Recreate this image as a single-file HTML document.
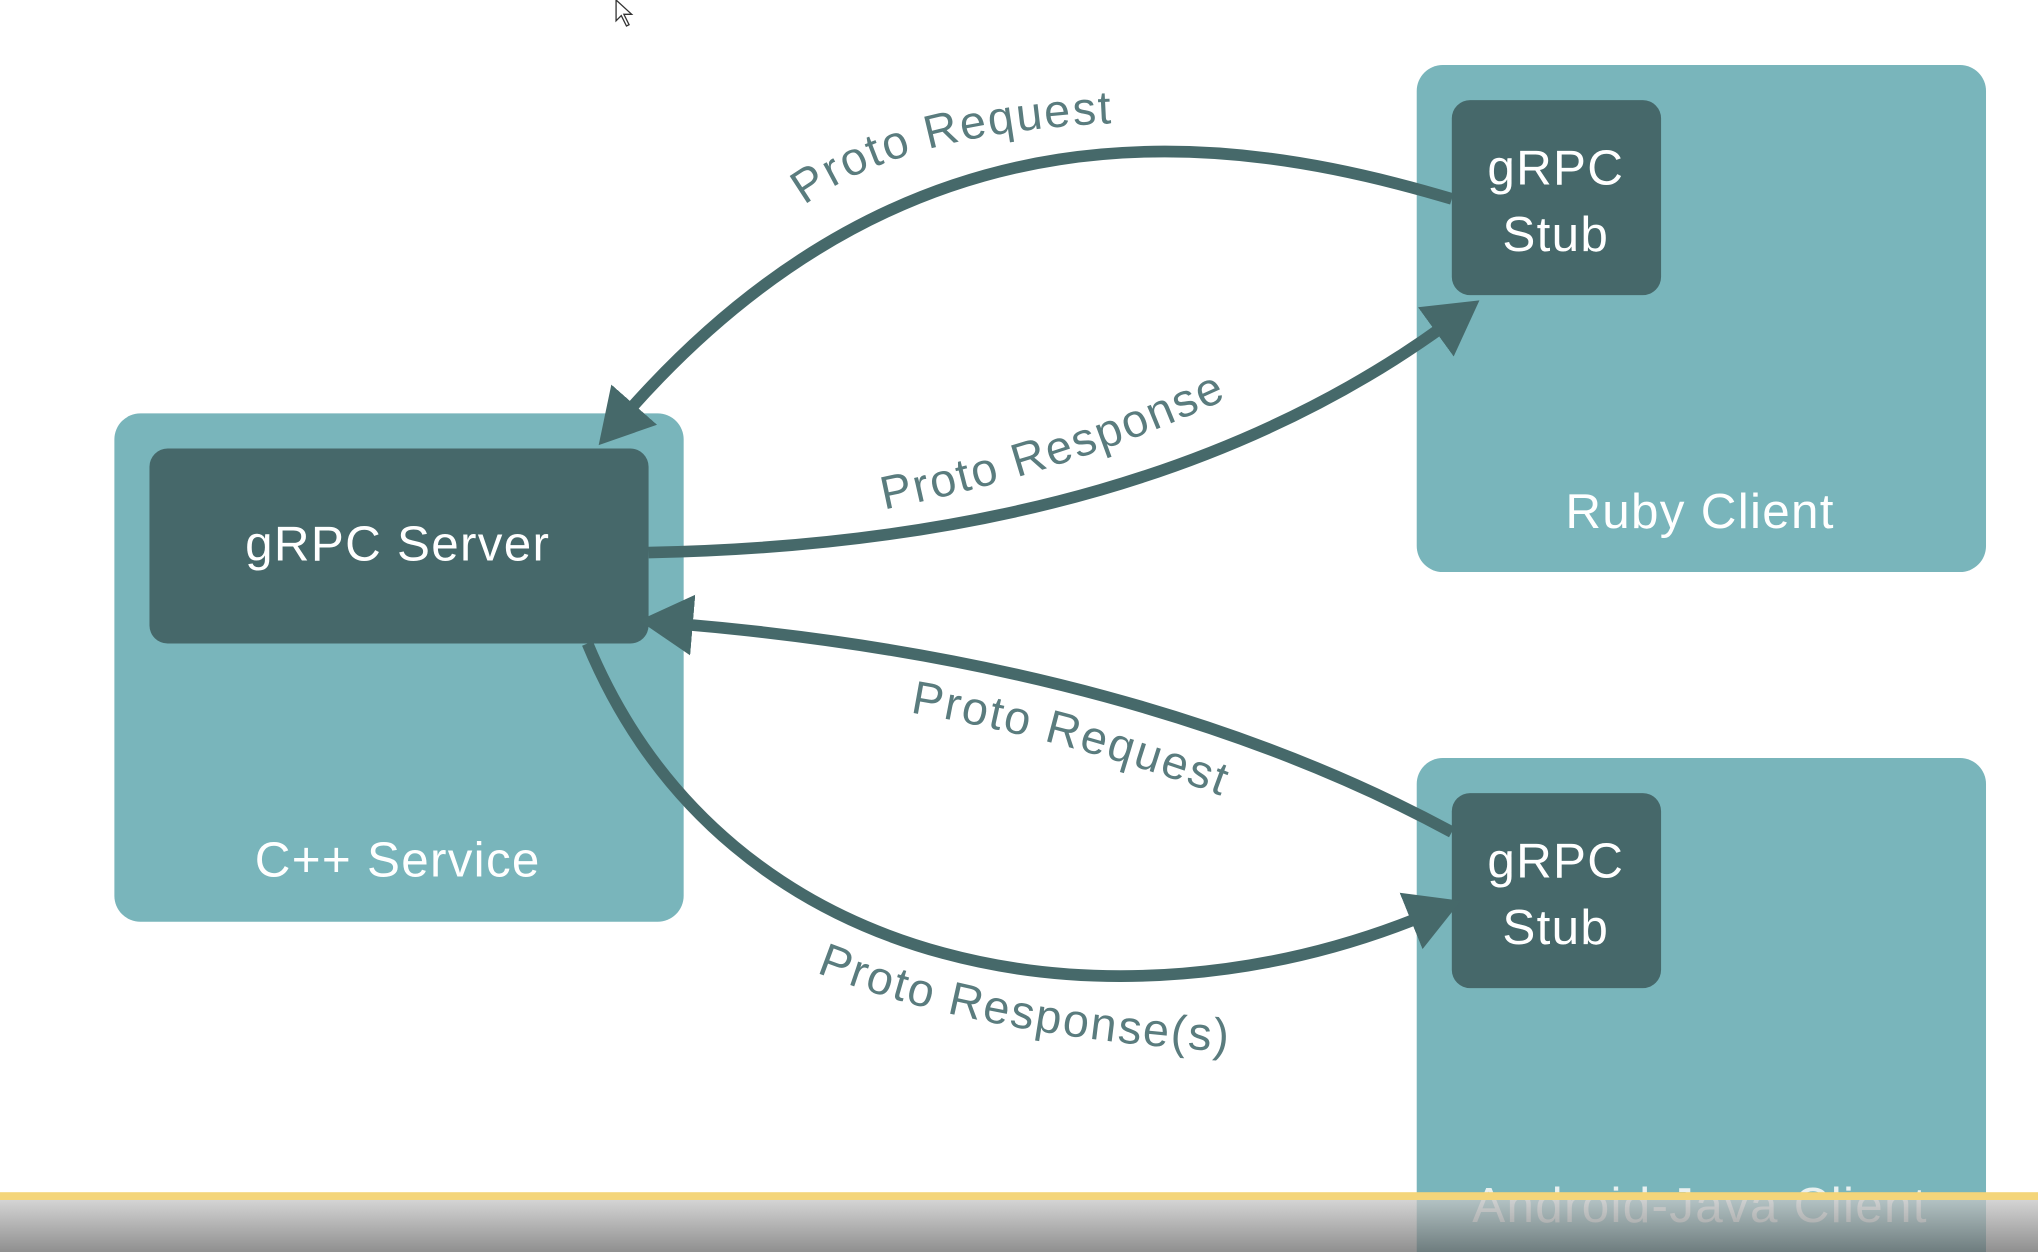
<!DOCTYPE html>
<html><head><meta charset="utf-8"><style>
html,body{margin:0;padding:0;background:#fff;}
svg{display:block;}
</style></head><body>
<svg width="2038" height="1252" viewBox="0 0 1568 963" preserveAspectRatio="none" xmlns="http://www.w3.org/2000/svg">
<defs>
<marker id="ah" markerWidth="6" markerHeight="6" refX="1" refY="3" orient="auto" markerUnits="strokeWidth">
<path d="M0,0.4 L4.6,3 L0,5.6 Z" fill="#46696a"/>
</marker>
<linearGradient id="bar" x1="0" y1="0" x2="0" y2="1">
<stop offset="0" stop-color="#c8c8c8"/><stop offset="1" stop-color="#6a6a6a"/>
</linearGradient>
<path id="l1" d="M619,158 Q 700,98 880,94"/>
<path id="l2" d="M680,392 Q 830,362 958,300"/>
<path id="l3" d="M700,548 Q 830,570 955,618"/>
<path id="l4" d="M628,748 Q 760,800 965,810"/>
</defs>
<rect width="1568" height="963" fill="#fff"/>
<rect x="88" y="318" width="438" height="391" rx="20" fill="#79b5bb"/>
<rect x="115" y="345" width="384" height="150" rx="14" fill="#46686a"/>
<text x="306" y="431" font-family="Liberation Sans, sans-serif" font-size="38" letter-spacing="1" fill="#fff" text-anchor="middle">gRPC Server</text>
<text x="306" y="674" font-family="Liberation Sans, sans-serif" font-size="38" letter-spacing="1" fill="#fff" text-anchor="middle">C++ Service</text>

<rect x="1090" y="50" width="438" height="390" rx="20" fill="#79b5bb"/>
<rect x="1117" y="77" width="161" height="150" rx="14" fill="#46686a"/>
<text x="1197" y="142" font-family="Liberation Sans, sans-serif" font-size="38" letter-spacing="1" fill="#fff" text-anchor="middle">gRPC</text>
<text x="1197" y="193" font-family="Liberation Sans, sans-serif" font-size="38" letter-spacing="1" fill="#fff" text-anchor="middle">Stub</text>
<text x="1308" y="406" font-family="Liberation Sans, sans-serif" font-size="38" letter-spacing="1" fill="#fff" text-anchor="middle">Ruby Client</text>

<rect x="1090" y="583" width="438" height="420" rx="20" fill="#79b5bb"/>
<rect x="1117" y="610" width="161" height="150" rx="14" fill="#46686a"/>
<text x="1197" y="675" font-family="Liberation Sans, sans-serif" font-size="38" letter-spacing="1" fill="#fff" text-anchor="middle">gRPC</text>
<text x="1197" y="726" font-family="Liberation Sans, sans-serif" font-size="38" letter-spacing="1" fill="#fff" text-anchor="middle">Stub</text>
<text x="1308" y="940" font-family="Liberation Sans, sans-serif" font-size="38" letter-spacing="1" fill="#e8f0f0" text-anchor="middle">Android-Java Client</text>

<g fill="none" stroke="#46696a" stroke-width="9">
<path d="M1117,153 C 940,100 700,70 482,318" marker-end="url(#ah)"/>
<path d="M499,425 C 760,420 960,360 1112,250" marker-end="url(#ah)"/>
<path d="M1117,640 C 960,555 760,500 524,480" marker-end="url(#ah)"/>
<path d="M452,495 C 560,755 860,800 1094,705" marker-end="url(#ah)"/>
</g>

<g font-family="Liberation Sans, sans-serif" font-size="36" letter-spacing="1.5" fill="#5a7c7e">
<text><textPath href="#l1">Proto Request</textPath></text>
<text><textPath href="#l2">Proto Response</textPath></text>
<text><textPath href="#l3">Proto Request</textPath></text>
<text><textPath href="#l4">Proto Response(s)</textPath></text>
</g>

<path d="M474,0 L474,16 L478,12 L482,20 L484,19 L480,11 L486,11 Z" fill="#fff" stroke="#333" stroke-width="1"/>

<rect x="0" y="922" width="1568" height="41" fill="url(#bar)" opacity="0.75"/>
<rect x="0" y="917" width="1568" height="6" fill="#f4d57a"/>
</svg>
</body></html>
